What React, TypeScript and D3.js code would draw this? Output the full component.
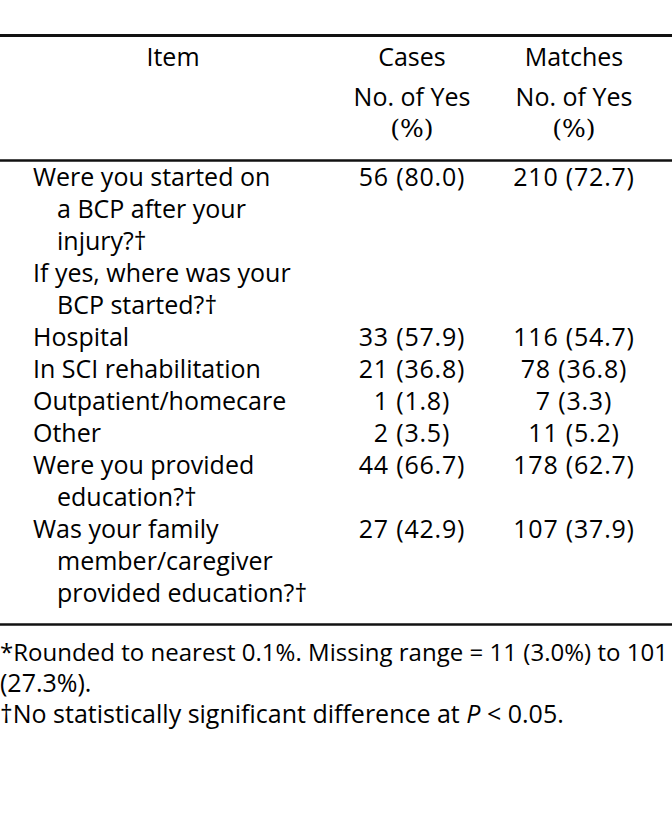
import React from "react";
import * as d3 from "d3";

const headerItem = "Item";
const headerGroups = ["Cases", "Matches"];
const headerSub = ["No. of Yes", "(%)"];

const itemLines: string[][] = [
  ["Were you started on", "a BCP after your", "injury?†"],
  ["If yes, where was your", "BCP started?†"],
  ["Hospital"],
  ["In SCI rehabilitation"],
  ["Outpatient/homecare"],
  ["Other"],
  ["Were you provided", "education?†"],
  ["Was your family", "member/caregiver", "provided education?†"],
];
const casesValues = ["56 (80.0)", "", "33 (57.9)", "21 (36.8)", "1 (1.8)", "2 (3.5)", "44 (66.7)", "27 (42.9)"];
const matchesValues = ["210 (72.7)", "", "116 (54.7)", "78 (36.8)", "7 (3.3)", "11 (5.2)", "178 (62.7)", "107 (37.9)"];
const footnotes = [
  "*Rounded to nearest 0.1%. Missing range = 11 (3.0%) to 101",
  "(27.3%).",
];

const W = 672;
const H = 813;
const FONT = "'Open Sans', sans-serif";
const FS = 25;

export default function App() {
  const colX = d3.scaleOrdinal<string, number>().domain(["item", "cases", "matches"]).range([173, 412, 574]);
  const starts: number[] = [];
  let acc = 0;
  itemLines.forEach((l) => {
    starts.push(acc);
    acc += l.length;
  });
  const lineY = d3.scaleLinear().domain([0, 1]).range([186, 218]);
  const footY = d3.scaleLinear().domain([0, 1]).range([661, 692]);

  return (
    <svg width={W} height={H} style={{ position: "absolute", left: 0, top: 0, background: "#fff" }}>
      <rect x={0} y={0} width={W} height={H} fill="#fff" />
      <g fontFamily={FONT} fontSize={FS} fill="#000">
        <line x1={0} x2={W} y1={35.5} y2={35.5} stroke="#111" strokeWidth={3} />
        <text x={colX("item")} y={66} textAnchor="middle">{headerItem}</text>
        {headerGroups.map((g, i) => (
          <g key={g}>
            <text x={colX(i === 0 ? "cases" : "matches")} y={66} textAnchor="middle">{g}</text>
            <text x={colX(i === 0 ? "cases" : "matches")} y={106} textAnchor="middle">{headerSub[0]}</text>
            <text x={colX(i === 0 ? "cases" : "matches")} y={137} textAnchor="middle" fontFamily="'DejaVu Serif', serif">{headerSub[1]}</text>
          </g>
        ))}
        <line x1={0} x2={W} y1={160.5} y2={160.5} stroke="#111" strokeWidth={2.5} />
        {itemLines.map((lines, r) => (
          <g key={r}>
            {lines.map((t, j) => (
              <text key={j} x={j === 0 ? 33 : 57} y={lineY(starts[r] + j)}>{t}</text>
            ))}
            <text x={colX("cases")} y={lineY(starts[r])} textAnchor="middle" letterSpacing={0.8}>{casesValues[r]}</text>
            <text x={colX("matches")} y={lineY(starts[r])} textAnchor="middle" letterSpacing={0.8}>{matchesValues[r]}</text>
          </g>
        ))}
        <line x1={0} x2={W} y1={624.5} y2={624.5} stroke="#111" strokeWidth={2.5} />
        <text x={0} y={footY(0)} fontSize={24} textLength={668} lengthAdjust="spacing">{footnotes[0]}</text>
        <text x={0} y={footY(1)}>{footnotes[1]}</text>
        <text x={0} y={footY(2)}>†No statistically significant difference at <tspan fontStyle="italic">P</tspan> &lt; 0.05.</text>
      </g>
    </svg>
  );
}
